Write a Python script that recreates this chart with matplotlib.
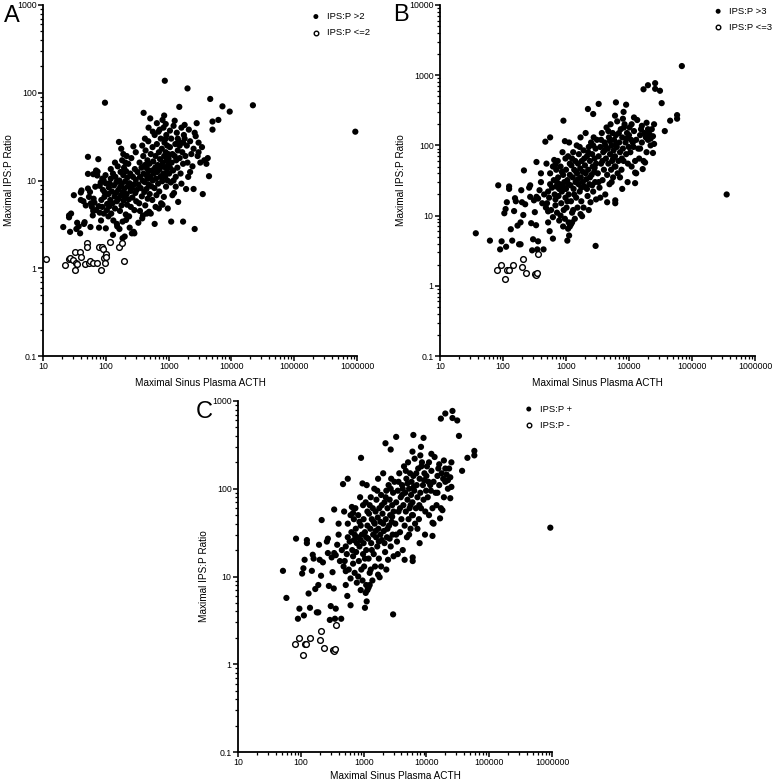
import matplotlib
matplotlib.use("Agg")
import matplotlib.pyplot as plt
from matplotlib.ticker import LogLocator, FuncFormatter, NullFormatter
import numpy as np

plt.rcParams['font.family'] = ['Liberation Sans', 'DejaVu Sans']

# ---------------- Panel A data (ACTH, IPS:P ratio) ----------------
a_pos = [
    (21, 2.95), (26, 3.8), (26, 4.0), (28, 4.2), (31, 6.8), (27, 2.6), (34, 2.8), (35, 3.3),
    (39, 2.5), (37, 3.0), (40, 7.3), (41, 7.7), (40, 6.0), (46, 3.35), (45, 3.2), (44, 5.8),
    (48, 5.2), (52, 18.6), (52, 11.9), (52, 8.1), (54, 6.5), (56, 7.4), (57, 2.95), (58, 5.5),
    (60, 5.0), (62, 4.0), (63, 11.8), (64, 6.2), (63, 4.5), (66, 5.6), (68, 8.5), (70, 4.6),
    (70, 13), (73, 11.4), (74, 12.6), (76, 17.5), (77, 5.1), (78, 2.9), (80, 8.7), (80, 4.3),
    (83, 9.5), (84, 3.5), (85, 6.0), (88, 5.0), (88, 10.5), (90, 7.8), (92, 10.2), (93, 4.2),
    (95, 6.5), (96, 7.3), (97, 77), (99, 11.5), (100, 9.3), (100, 2.85), (104, 4.6), (105, 5.4),
    (110, 3.9), (115, 9.3), (115, 5.1),
    (110, 7.0), (112, 8.3), (118, 6.0), (120, 10.5), (122, 4.2), (125, 7.5), (128, 5.5), (130, 12),
    (132, 3.5), (135, 8.8), (138, 6.6), (140, 4.8), (142, 11), (145, 7.2), (148, 9.6), (150, 5.8),
    (152, 3.0), (155, 14.5), (158, 7.8), (160, 6.2), (162, 27.5), (165, 10), (168, 4.5), (170, 8.5),
    (172, 12.5), (175, 6.8), (176, 23), (178, 5.2), (180, 9.2), (182, 17), (185, 3.4), (188, 7.4),
    (190, 11.5), (192, 5.9), (195, 14), (198, 8.1), (200, 2.3), (202, 6.5), (205, 9.8), (208, 4.1),
    (210, 12.8), (215, 7.0), (218, 5.3), (220, 10.8), (225, 8.6), (228, 15.5), (232, 6.1), (235, 3.9),
    (240, 9.3), (245, 12), (248, 7.6), (250, 5.0), (255, 18), (260, 8.2), (265, 6.4), (270, 11),
    (275, 24.5), (278, 2.6), (280, 9.0), (285, 4.6), (290, 13.5), (295, 7.2), (300, 21), (300, 10.2),
    (305, 5.8), (240, 2.9), (260, 2.5), (130, 2.4), (150, 3.2), (165, 2.8), (185, 2.2), (190, 20),
    (205, 16), (215, 19), (120, 13.5), (140, 16), (210, 3.55), (285, 2.5),
    (310, 7.8), (320, 12.5), (330, 9.0), (340, 5.5), (345, 16), (350, 11), (360, 8.2), (370, 14),
    (375, 6.6), (380, 25), (385, 10), (390, 4.0), (395, 19), (400, 12), (400, 59), (410, 7.4),
    (415, 9.6), (420, 15), (425, 5.2), (430, 22), (440, 11.5), (445, 8.0), (450, 13.8), (460, 17),
    (465, 6.2), (470, 10.5), (475, 28), (480, 9.0), (485, 12.8), (490, 4.4), (495, 15.5), (500, 7.0),
    (510, 51), (510, 11), (520, 20), (530, 8.6), (540, 13), (550, 6.0), (555, 24), (560, 10),
    (570, 16.5), (580, 12), (600, 3.2), (595, 8.2), (600, 33), (610, 14), (620, 19), (630, 10.5),
    (640, 6.8), (650, 26), (660, 12.5), (670, 15), (680, 9.2), (690, 36), (700, 21), (710, 7.5),
    (720, 13.5), (730, 17.5), (740, 11), (750, 30), (760, 5.5), (770, 14.5), (780, 23), (790, 9.8),
    (800, 49), (810, 16), (820, 12), (830, 40), (840, 6.5), (850, 19), (860, 27), (870, 137),
    (880, 11), (890, 14), (900, 21), (910, 8.5), (920, 33), (930, 17), (940, 12.5), (950, 25),
    (960, 10), (970, 4.8), (980, 15), (990, 20), (350, 4.5), (450, 4.2), (620, 5), (700, 4.8),
    (800, 5.3), (330, 3.3), (380, 3.7), (520, 4.2), (420, 30), (480, 40), (650, 45), (720, 38),
    (560, 36), (900, 30), (850, 55),
    (1000, 18), (1020, 12), (1050, 24), (1080, 9.5), (1100, 30), (1100, 3.4), (1120, 16), (1150, 20),
    (1180, 13), (1200, 42), (1220, 7.2), (1250, 19), (1280, 26), (1300, 11), (1320, 17), (1350, 35),
    (1380, 14), (1400, 22), (1420, 5.7), (1450, 28), (1480, 69), (1500, 18), (1550, 12), (1600, 40),
    (1650, 21), (1700, 15.5), (1700, 3.4), (1750, 33), (1800, 43), (1850, 19), (1900, 8.0), (1950, 25),
    (2000, 112), (2000, 16), (2050, 11), (2100, 38), (2200, 28), (2300, 20), (2400, 14.5), (2500, 23),
    (2600, 2.8), (2700, 32), (2800, 45), (2900, 19), (3000, 27), (3200, 16), (3400, 24), (3500, 7.0),
    (3700, 17), (4000, 15.5), (4200, 18), (4400, 11.2), (4600, 85), (5000, 38), (5000, 47), (6200, 49),
    (7200, 70), (9400, 61), (22000, 72), (940000, 36), (1200, 10), (1300, 8.5), (1150, 6.8),
    (1050, 14), (1600, 9.2), (1400, 30), (1250, 48), (900, 44), (1800, 30), (2200, 12.5), (2600, 35),
    (3000, 21), (2500, 8.0), (1700, 27), (1050, 37), (1500, 25),
]
a_neg = [
    (11.3, 1.28), (22.5, 1.10), (26, 1.28), (26.5, 1.3), (30, 1.23), (32, 1.52), (32, 0.95),
    (34, 1.15), (34.5, 1.13), (38.5, 1.52), (41, 1.35), (47, 1.11), (50, 1.95), (50, 1.75),
    (54, 1.14), (57, 1.2), (63, 1.15), (73, 1.15), (78, 1.75), (86, 1.75), (85, 0.95), (91, 1.65),
    (94, 1.3), (96, 1.15), (100, 1.46), (102, 1.36), (115, 2.0), (162, 1.75), (178, 1.96), (193, 1.21),
]

# ---------------- Panels B / C shared data ----------------
bc_pos_core = [
    (84, 27), (90, 3.3), (95, 4.3), (112, 3.6), (110, 12.4), (115, 15.5), (105, 10.8), (125, 26),
    (125, 24), (133, 6.4), (140, 4.4), (150, 11.6), (155, 17.7), (160, 16), (170, 7.2), (180, 3.9),
    (190, 3.9), (190, 8.0), (195, 23), (200, 15.5), (210, 10.2), (215, 44), (225, 14.5), (260, 25),
    (270, 27), (270, 18.5), (280, 7.8), (300, 4.6), (290, 3.2), (310, 16.5), (320, 11.2), (335, 7.3),
    (340, 18.5), (340, 58), (350, 3.3), (360, 4.3), (360, 17.5), (380, 23), (400, 30), (400, 40),
    (440, 3.3), (470, 113), (490, 55), (520, 11.5), (550, 6.0), (560, 130), (620, 4.7), (680, 53),
    (910, 225), (1050, 4.4), (1120, 5.2), (2950, 3.7), (2230, 330), (3300, 390), (2700, 280),
    (6200, 410), (9000, 380), (6000, 265), (8200, 300), (17000, 630), (20000, 720), (26000, 770),
    (26000, 640), (31000, 600), (33000, 400), (45000, 225), (58000, 270), (58000, 240),
    (37000, 160), (25000, 200), (24000, 78), (16000, 190), (6050, 15), (6050, 16.5), (7800, 24),
    (12500, 41),
    (420, 15), (450, 20), (480, 13), (500, 15), (520, 22), (540, 18), (560, 28), (580, 12),
    (600, 25), (620, 9.5), (640, 32), (660, 20), (680, 14), (700, 45), (700, 26), (720, 11),
    (740, 60), (750, 35), (760, 19), (780, 8.5), (800, 28), (820, 50), (840, 15), (860, 22),
    (880, 80), (900, 38), (900, 7), (920, 12), (940, 30), (960, 115), (980, 18), (980, 65),
    (520, 8), (560, 40), (620, 50), (650, 62), (680, 17), (720, 30), (780, 24), (820, 10),
    (860, 42), (900, 26), (960, 9), (1000, 24),
    (1000, 45), (1020, 13), (1050, 32), (1080, 70), (1100, 20), (1100, 8), (1120, 110), (1150, 38),
    (1180, 27), (1200, 16), (1220, 52), (1250, 11), (1280, 35), (1300, 80), (1320, 24), (1350, 45),
    (1380, 9), (1400, 60), (1420, 30), (1450, 18), (1480, 100), (1500, 40), (1520, 13), (1550, 55),
    (1580, 28), (1600, 75), (1650, 22), (1680, 47), (1700, 130), (1720, 35), (1750, 16), (1780, 60),
    (1800, 9.8), (1850, 42), (1900, 85), (1950, 26), (2000, 52), (2050, 150), (2100, 33), (2150, 70),
    (2200, 19), (2250, 45), (2300, 95), (2350, 28), (2400, 60), (2450, 15.5), (2500, 110), (2550, 38),
    (2600, 75), (2650, 50), (2700, 22), (2750, 130), (2800, 42), (2850, 65), (2900, 30), (2950, 90),
    (3000, 55), (3000, 17), (1100, 28), (1150, 55), (1250, 65), (1350, 20), (1450, 42), (1550, 33),
    (1650, 95), (1750, 25), (1850, 30), (1950, 65), (2050, 40), (2150, 24), (2250, 80), (2400, 35),
    (2600, 27), (2700, 100), (2850, 48), (1050, 16), (1300, 12), (1200, 7.5), (1700, 10.5),
    (1900, 13), (2300, 12), (1080, 6.5), (1150, 7), (1250, 8),
    (3100, 120), (3200, 40), (3300, 70), (3400, 25), (3500, 95), (3600, 55), (3700, 150), (3800, 32),
    (3900, 80), (4000, 45), (4100, 110), (4200, 20), (4300, 65), (4400, 180), (4500, 38), (4600, 90),
    (4700, 55), (4800, 130), (4900, 28), (5000, 75), (5100, 200), (5200, 45), (5300, 100), (5400, 60),
    (5500, 150), (5600, 35), (5700, 85), (5800, 120), (5900, 50), (6000, 70), (6200, 140), (6400, 95),
    (6600, 40), (6800, 60), (7000, 110), (7200, 80), (7400, 170), (7600, 45), (7800, 130), (8000, 90),
    (8200, 60), (8500, 200), (8800, 110), (9000, 75), (9300, 150), (9600, 55), (9900, 95), (3300, 30),
    (3800, 60), (4200, 100), (4700, 160), (5300, 30), (6500, 220), (7200, 35), (8000, 240), (9500, 30),
    (3500, 18), (4500, 15.5), (6100, 50), (6900, 150), (7700, 65), (8300, 180), (9200, 125),
    (3600, 120), (4100, 85), (5000, 115), (5600, 65), (6300, 105),
    (10000, 140), (10500, 80), (11000, 200), (11500, 110), (12000, 160), (12500, 29), (12500, 60),
    (13000, 120), (13500, 230), (14000, 90), (15000, 140), (15500, 170), (16000, 110), (17000, 60),
    (17500, 150), (18000, 57), (18500, 130), (19000, 210), (20000, 120), (21000, 145), (22000, 100),
    (23000, 170), (24000, 135), (25000, 105), (11000, 50), (13000, 40), (14500, 65), (16500, 46),
    (10200, 180), (12000, 250), (19000, 80), (22000, 125), (20000, 170), (11800, 95), (15000, 90),
    (10800, 120),
]
b_pos_extra = [(37, 5.6), (62, 4.4), (69000, 1350), (355000, 20)]
c_pos_extra = [(52, 11.6), (59, 5.7), (940000, 36)]
bc_neg = [
    (81, 1.68), (93, 2.0), (107, 1.27), (115, 1.7), (123, 1.68), (142, 2.0), (203, 1.87),
    (207, 2.4), (233, 1.52), (325, 1.45), (335, 1.42), (345, 1.5), (360, 2.8),
]

b_pos = bc_pos_core + b_pos_extra
c_pos = bc_pos_core + c_pos_extra

labels_a = ["IPS:P >2", "IPS:P <=2"]
labels_b = ["IPS:P >3", "IPS:P <=3"]
labels_c = ["IPS:P +", "IPS:P -"]
x_label = "Maximal Sinus Plasma ACTH"
y_label = "Maximal IPS:P Ratio"

W, H = 777, 784
fig = plt.figure(figsize=(W / 100, H / 100), dpi=100)


def px_axes(left, top, right, bottom):
    return fig.add_axes([left / W, 1 - bottom / H, (right - left) / W, (bottom - top) / H])


def fmt(v, pos):
    if v >= 1:
        return "%d" % int(round(v))
    return "%g" % v


def style(ax, ylim, xpad):
    ax.set_xscale("log")
    ax.set_yscale("log")
    ax.set_xlim(10, 1e6)
    ax.set_ylim(*ylim)
    for s in ("top", "right"):
        ax.spines[s].set_visible(False)
    for s in ("left", "bottom"):
        ax.spines[s].set_linewidth(1.3)
    ax.xaxis.set_major_locator(LogLocator(base=10, numticks=20))
    ax.yaxis.set_major_locator(LogLocator(base=10, numticks=20))
    ax.xaxis.set_minor_locator(LogLocator(base=10, subs=np.arange(2, 10), numticks=100))
    ax.yaxis.set_minor_locator(LogLocator(base=10, subs=np.arange(2, 10), numticks=100))
    ax.xaxis.set_major_formatter(FuncFormatter(fmt))
    ax.yaxis.set_major_formatter(FuncFormatter(fmt))
    ax.xaxis.set_minor_formatter(NullFormatter())
    ax.yaxis.set_minor_formatter(NullFormatter())
    ax.tick_params(which="major", length=3.6, width=1.1, labelsize=6.3, pad=1, direction="out")
    ax.tick_params(which="minor", length=2.0, width=0.9, direction="out")
    ax.set_xlabel(x_label, fontsize=7.2, labelpad=xpad)
    ax.set_ylabel(y_label, fontsize=7.2, labelpad=2.5)


def draw(ax, pos, neg, labels, bbox):
    px, py = zip(*pos)
    nx, ny = zip(*neg)
    ax.scatter(px, py, s=20, c="black", edgecolors="none", label=labels[0], clip_on=False, zorder=3)
    ax.scatter(nx, ny, s=17, facecolors="white", edgecolors="black", linewidths=1.0,
               label=labels[1], clip_on=False, zorder=3)
    ax.legend(loc="upper left", bbox_to_anchor=bbox, frameon=False, fontsize=6.8,
              borderpad=0, handletextpad=0.7, labelspacing=0.75, handlelength=1.0,
              borderaxespad=0, scatterpoints=1, markerscale=0.8)


axA = px_axes(43, 5, 357, 356)
style(axA, (0.1, 1000), 4.5)
draw(axA, a_pos, a_neg, labels_a, (0.854, 0.98))

axB = px_axes(440, 5, 755, 356)
style(axB, (0.1, 10000), 4.5)
draw(axB, b_pos, bc_neg, labels_b, (0.868, 0.995))

axC = px_axes(238, 401, 552, 752)
style(axC, (0.1, 1000), 2.5)
draw(axC, c_pos, bc_neg, labels_c, (0.911, 0.99))

fig.text(4 / W, 1 - 5 / H, "A", fontsize=17, va="top", ha="left")
fig.text(393 / W, 1 - 4 / H, "B", fontsize=17, va="top", ha="left")
fig.text(196 / W, 1 - 401 / H, "C", fontsize=17, va="top", ha="left")

fig.savefig("out.png", dpi=100)
